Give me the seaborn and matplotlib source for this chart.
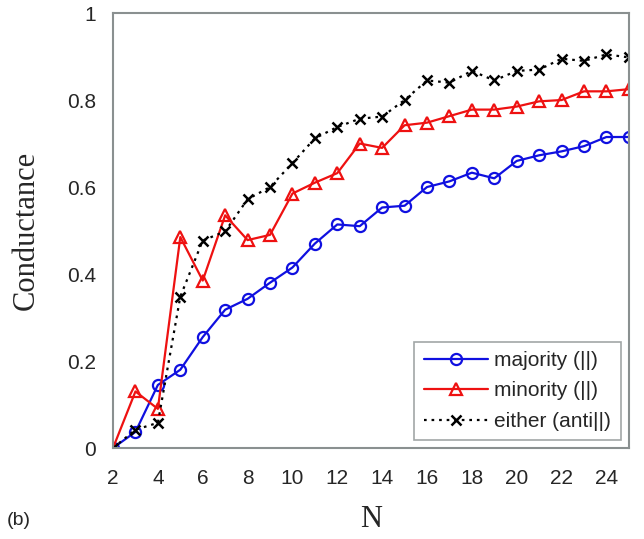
import numpy as np
import pandas as pd
import seaborn as sns
import matplotlib.pyplot as plt

# data
N = list(range(2, 26))
majority = [0, 0.037, 0.145, 0.18, 0.255, 0.318, 0.343, 0.38, 0.415, 0.47, 0.514, 0.51,
            0.553, 0.557, 0.6, 0.613, 0.633, 0.62, 0.66, 0.673, 0.682, 0.694, 0.715, 0.715]
minority = [0, 0.13, 0.09, 0.485, 0.385, 0.535, 0.478, 0.49, 0.585, 0.61, 0.632, 0.7,
            0.69, 0.742, 0.748, 0.763, 0.778, 0.778, 0.785, 0.797, 0.8, 0.82, 0.82, 0.825]
either = [0, 0.042, 0.058, 0.348, 0.477, 0.498, 0.572, 0.6, 0.655, 0.712, 0.738, 0.757,
          0.762, 0.8, 0.845, 0.84, 0.867, 0.845, 0.867, 0.87, 0.895, 0.89, 0.905, 0.898]
labels = ["majority (||)", "minority (||)", "either (anti||)"]

df = pd.DataFrame({"N": N, labels[0]: majority, labels[1]: minority, labels[2]: either})

sns.set_style("white")
plt.rcParams["font.family"] = ["Liberation Sans", "DejaVu Sans"]

fig = plt.figure(figsize=(6.44, 5.39), dpi=100)
ax = fig.add_axes([0.1755, 0.1688, 0.801, 0.807])

sns.lineplot(data=df, x="N", y=labels[0], ax=ax, color="#1010e0", lw=1.6,
             marker="o", ms=8, mfc="none", mec="#1010e0", mew=1.6, label=labels[0])
sns.lineplot(data=df, x="N", y=labels[1], ax=ax, color="#ee1111", lw=1.6,
             marker="^", ms=8, mfc="none", mec="#ee1111", mew=1.6, label=labels[1])
sns.lineplot(data=df, x="N", y=labels[2], ax=ax, color="black", lw=1.6, ls=(0, (1.2, 2.2)),
             marker="x", ms=7, mec="black", mew=1.8, label=labels[2])

ax.set_xlim(2, 25)
ax.set_ylim(0, 1)
ax.set_xticks(range(2, 25, 2))
ax.set_yticks([0, 0.2, 0.4, 0.6, 0.8, 1])
ax.set_yticklabels(["0", "0.2", "0.4", "0.6", "0.8", "1"])
for s in ax.spines.values():
    s.set_color("#8a9090")
    s.set_linewidth(1.5)
ax.tick_params(axis="both", direction="out", length=6, width=1, color="#8a9090",
               labelsize=15, pad=6)
ax.tick_params(axis="x", pad=9)

ax.set_xlabel("N", family="Liberation Serif", fontsize=22, labelpad=12)
ax.set_ylabel("Conductance", family="Liberation Serif", fontsize=22, labelpad=19)
fig.text(0.011, 0.026, "(b)", fontsize=14)

leg = ax.legend(loc="lower right", fontsize=15, frameon=True, fancybox=False,
                edgecolor="#8a9090", handlelength=3.1, handletextpad=0.3,
                labelspacing=0.55, borderpad=0.45, borderaxespad=0,
                bbox_to_anchor=(0.984, 0.018))
leg.get_frame().set_linewidth(1.2)

fig.savefig("out.png", dpi=100)
